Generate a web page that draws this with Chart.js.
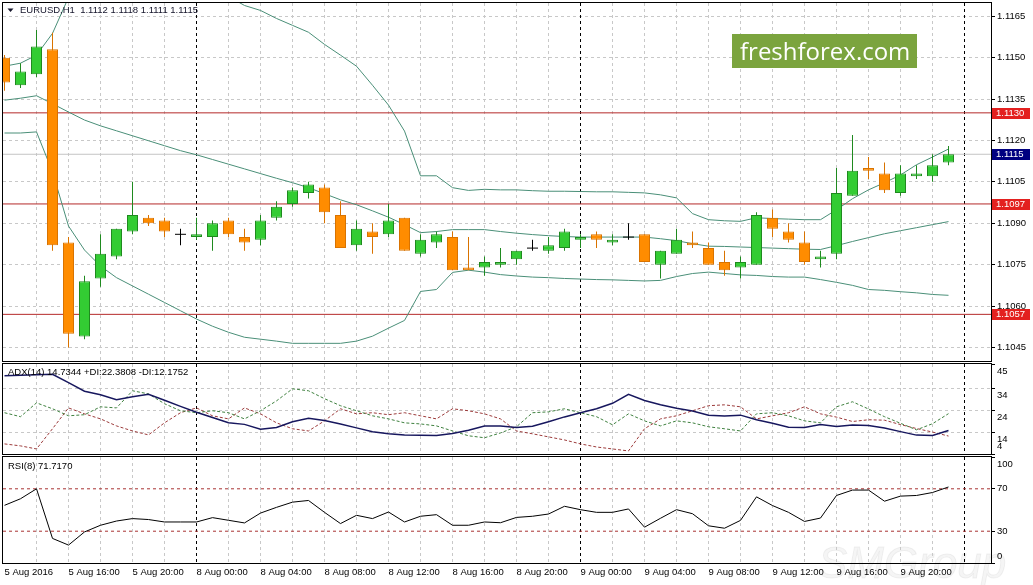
<!DOCTYPE html>
<html>
<head>
<meta charset="utf-8">
<title>EURUSD H1</title>
<script src="https://cdn.jsdelivr.net/npm/chart.js@4.4.1/dist/chart.umd.min.js"></script>
<style>
  html, body { margin: 0; padding: 0; background: #fff; }
  #wrap { position: relative; width: 1033px; height: 585px; overflow: hidden; background: #fff; }
  .pane { position: absolute; left: 0; width: 1033px; }
</style>
</head>
<body>
<div id="wrap">
  <div class="pane" style="top:0;height:362px"><canvas id="priceChart"></canvas></div>
  <div class="pane" style="top:362px;height:93px"><canvas id="adxChart"></canvas></div>
  <div class="pane" style="top:455px;height:130px"><canvas id="rsiChart"></canvas></div>
</div>
<script>
var symbol = 'EURUSD,H1';
var brand = 'freshforex.com';
var watermark = 'SMGroup';

// one label every 4 bars, starting at bar 0
var timeLabels = ['5 Aug 2016', '5 Aug 16:00', '5 Aug 20:00', '8 Aug 00:00', '8 Aug 04:00', '8 Aug 08:00',
    '8 Aug 12:00', '8 Aug 16:00', '8 Aug 20:00', '9 Aug 00:00', '9 Aug 04:00', '9 Aug 08:00',
    '9 Aug 12:00', '9 Aug 16:00', '9 Aug 20:00'];
var daySeparators = [12, 36, 60];

var opens = [1.1150, 1.1140, 1.1144, 1.1153, 1.1083, 1.1049, 1.1070, 1.1078, 1.1087, 1.1092,
    1.1091, 1.1086, 1.1085, 1.1085, 1.1091, 1.1085, 1.1084, 1.1092, 1.1097, 1.1101,
    1.1103, 1.1093, 1.1082, 1.1087, 1.1086, 1.1092, 1.1079, 1.1083, 1.1085, 1.1074,
    1.1074, 1.1075, 1.1077, 1.1081, 1.1080, 1.1081, 1.1084, 1.1086, 1.1083, 1.1085,
    1.1086, 1.1075, 1.1079, 1.1083, 1.1081, 1.1076, 1.1074, 1.1075, 1.1092, 1.1087,
    1.1083, 1.1077, 1.1079, 1.1100, 1.1110, 1.1108, 1.1101, 1.1107, 1.1107, 1.1112];
var highs = [1.1151, 1.1148, 1.1160, 1.1159, 1.1085, 1.1071, 1.1086, 1.1088, 1.1105, 1.1093,
    1.1092, 1.1088, 1.1092, 1.1091, 1.1092, 1.1088, 1.1093, 1.1098, 1.1103, 1.1105,
    1.1104, 1.1098, 1.1091, 1.1090, 1.1097, 1.1092, 1.1086, 1.1087, 1.1087, 1.1085,
    1.1078, 1.1081, 1.1080, 1.1084, 1.1085, 1.1088, 1.1086, 1.1087, 1.1086, 1.1090,
    1.1086, 1.1080, 1.1088, 1.1087, 1.1083, 1.1080, 1.1078, 1.1094, 1.1095, 1.1090,
    1.1087, 1.1080, 1.1110, 1.1122, 1.1114, 1.1112, 1.1111, 1.1111, 1.1115, 1.1118];
var lows = [1.1138, 1.1139, 1.1143, 1.1080, 1.1045, 1.1048, 1.1067, 1.1077, 1.1086, 1.1089,
    1.1085, 1.1082, 1.1084, 1.1080, 1.1085, 1.1080, 1.1082, 1.1091, 1.1096, 1.1099,
    1.1090, 1.1081, 1.1080, 1.1079, 1.1085, 1.1080, 1.1078, 1.1081, 1.1073, 1.1073,
    1.1071, 1.1074, 1.1075, 1.1080, 1.1079, 1.1080, 1.1081, 1.1081, 1.1082, 1.1084,
    1.1076, 1.1070, 1.1079, 1.1081, 1.1075, 1.1071, 1.1070, 1.1075, 1.1085, 1.1083,
    1.1075, 1.1074, 1.1077, 1.1100, 1.1106, 1.1101, 1.1100, 1.1106, 1.1105, 1.1111];
var closes = [1.1141, 1.1145, 1.1154, 1.1082, 1.1050, 1.1069, 1.1079, 1.1088, 1.1093, 1.1090,
    1.1087, 1.1086, 1.1086, 1.1090, 1.1086, 1.1083, 1.1091, 1.1096, 1.1102, 1.1104,
    1.1094, 1.1081, 1.1088, 1.1085, 1.1091, 1.1080, 1.1084, 1.1086, 1.1073, 1.1073,
    1.1076, 1.1076, 1.1080, 1.1081, 1.1082, 1.1087, 1.1085, 1.1084, 1.1084, 1.1085,
    1.1076, 1.1080, 1.1084, 1.1082, 1.1075, 1.1073, 1.1076, 1.1093, 1.1088, 1.1084,
    1.1076, 1.1078, 1.1101, 1.1109, 1.1109, 1.1102, 1.1108, 1.1108, 1.1111, 1.1115];

var bbUpper = [1.11469, 1.11480, 1.11509, 1.11588, 1.11718, 1.11762, 1.11787, 1.11801, 1.11808, 1.11808,
    1.11801, 1.11787, 1.11769, 1.11747, 1.11722, 1.11689, 1.11671, 1.11642, 1.11617, 1.11592,
    1.11548, 1.11509, 1.11469, 1.11400, 1.11328, 1.11234, 1.11072, 1.11072, 1.11029, 1.11019,
    1.11023, 1.11021, 1.11021, 1.11018, 1.11016, 1.11016, 1.11015, 1.11014, 1.11014, 1.11012,
    1.11010, 1.11003, 1.10992, 1.10935, 1.10913, 1.10909, 1.10907, 1.10920, 1.10917, 1.10915,
    1.10913, 1.10913, 1.10949, 1.10989, 1.11021, 1.11047, 1.11075, 1.11112, 1.11140, 1.11169];
var bbMiddle = [1.11346, 1.11353, 1.11362, 1.11333, 1.11303, 1.11274, 1.11253, 1.11235, 1.11217, 1.11199,
    1.11181, 1.11163, 1.11148, 1.11131, 1.11114, 1.11097, 1.11080, 1.11063, 1.11047, 1.11029,
    1.11007, 1.10985, 1.10967, 1.10945, 1.10922, 1.10895, 1.10866, 1.10870, 1.10877, 1.10877,
    1.10877, 1.10870, 1.10864, 1.10859, 1.10855, 1.10852, 1.10850, 1.10850, 1.10850, 1.10850,
    1.10850, 1.10844, 1.10837, 1.10826, 1.10817, 1.10816, 1.10814, 1.10812, 1.10810, 1.10808,
    1.10806, 1.10805, 1.10819, 1.10834, 1.10848, 1.10862, 1.10873, 1.10884, 1.10895, 1.10906];
var bbLower = [1.11227, 1.11227, 1.11231, 1.11086, 1.10890, 1.10803, 1.10745, 1.10703, 1.10673, 1.10643,
    1.10613, 1.10583, 1.10553, 1.10527, 1.10505, 1.10487, 1.10480, 1.10473, 1.10465, 1.10465,
    1.10465, 1.10465, 1.10473, 1.10491, 1.10520, 1.10548, 1.10653, 1.10660, 1.10722, 1.10730,
    1.10723, 1.10714, 1.10709, 1.10705, 1.10703, 1.10700, 1.10698, 1.10696, 1.10695, 1.10693,
    1.10691, 1.10693, 1.10707, 1.10718, 1.10723, 1.10718, 1.10713, 1.10711, 1.10707, 1.10705,
    1.10705, 1.10696, 1.10686, 1.10675, 1.10660, 1.10657, 1.10652, 1.10648, 1.10642, 1.10639];

var levels = [1.1130, 1.1097, 1.1057];
var priceTicks = [1.1045, 1.1060, 1.1075, 1.1090, 1.1105, 1.1120, 1.1135, 1.1150, 1.1165];

var adxMain = [39.7, 39.9, 40.1, 40.3, 36.5, 32.6, 31.0, 28.7, 30.1, 31.2,
    28.5, 25.7, 23.0, 20.6, 18.2, 17.5, 15.3, 16.1, 18.7, 20.3,
    19.3, 17.7, 15.9, 14.1, 13.2, 12.7, 12.5, 12.4, 13.3, 14.8,
    16.8, 16.8, 16.1, 16.6, 18.7, 20.9, 22.8, 24.6, 27.1, 31.2,
    28.4, 26.4, 24.8, 23.6, 21.7, 21.3, 21.7, 19.6, 18.0, 16.2,
    16.1, 17.4, 16.5, 17.2, 17.0, 15.8, 14.2, 12.6, 12.4, 14.7344];
var plusDI = [22.8, 21.0, 27.3, 24.6, 21.4, 21.9, 25.5, 25.0, 32.8, 31.4,
    26.9, 23.7, 22.8, 23.7, 22.8, 20.0, 23.7, 28.2, 33.7, 32.8,
    29.2, 26.0, 23.7, 21.4, 20.0, 18.2, 17.7, 16.8, 14.5, 12.3,
    11.4, 13.6, 16.4, 22.8, 23.2, 24.6, 22.8, 21.0, 17.3, 22.3,
    19.1, 16.8, 19.1, 18.2, 16.4, 15.5, 14.5, 22.3, 22.8, 21.4,
    19.1, 18.2, 25.5, 27.8, 24.5, 21.0, 18.0, 15.0, 17.8, 22.3808];
var minusDI = [8.6, 7.7, 6.3, 15.5, 25.0, 22.3, 20.0, 16.8, 14.5, 12.7,
    18.2, 22.8, 25.0, 21.4, 20.0, 25.0, 22.3, 18.2, 15.5, 14.5,
    19.1, 24.6, 22.3, 22.8, 21.9, 22.8, 21.4, 20.0, 24.6, 23.7,
    22.3, 20.0, 14.5, 13.2, 11.8, 10.4, 8.6, 7.2, 6.3, 5.4,
    15.5, 20.0, 21.4, 23.7, 26.0, 26.4, 25.5, 20.0, 21.4, 22.8,
    25.5, 22.3, 20.8, 18.8, 19.6, 19.4, 17.4, 15.6, 14.0, 12.1752];
var adxTicks = [4, 14, 24, 34, 45];

var rsi = [54.4, 60.6, 70.0, 23.2, 16.9, 29.3, 35.6, 39.6, 41.9, 41.0,
    38.7, 38.7, 38.7, 42.8, 40.3, 37.8, 47.1, 52.5, 57.4, 59.0,
    47.8, 37.2, 45.0, 41.9, 48.1, 38.7, 44.1, 45.6, 35.6, 35.6,
    38.7, 38.0, 43.0, 44.1, 46.2, 53.5, 50.3, 47.8, 47.8, 51.0,
    33.8, 42.2, 50.3, 46.5, 35.1, 32.8, 40.2, 62.4, 54.2, 47.8,
    39.2, 42.4, 63.7, 68.8, 68.8, 58.3, 63.1, 63.7, 66.5, 71.7170];
var rsiLevels = [30, 70];
var rsiTicks = [0, 30, 70, 100];

/**
 * Shared look
 */

Chart.defaults.font.family = '"Liberation Sans", Arial, sans-serif';
Chart.defaults.font.size = 9.5;
Chart.defaults.color = '#000';
Chart.defaults.animation = false;
Chart.defaults.events = [];
Chart.defaults.plugins.legend.display = false;
Chart.defaults.plugins.tooltip.enabled = false;

const FONT = '9.5px "Liberation Sans", Arial, sans-serif';
const GRID = '#c8c8c8';
const BULL = '#33cc33', BULL_EDGE = '#1f8a1f';
const BEAR = '#ff8c00', BEAR_EDGE = '#d97300';

// 16 px per bar, bar centres on .5 pixels
const xMin = -0.09375, xMax = 61.65625;
var gridIndex = [];
for (var g = 0; g <= 60; g += 2) gridIndex.push(g);

function fmt(v) { return v.toFixed(4); }
function series(arr) { return arr.map(function (v, i) { return {x: i, y: v}; }); }
function flat(v) { return [{x: xMin, y: v}, {x: xMax, y: v}]; }
function isUp(i) { return closes[i] > opens[i]; }

function timeAxis(showLabels) {
    return {
        type: 'linear', min: xMin, max: xMax, offset: false,
        afterBuildTicks: function (s) { s.ticks = gridIndex.map(function (v) { return {value: v}; }); },
        afterFit: function (s) { s.height = showLabels ? 22 : 0; s.paddingLeft = 0; s.paddingRight = 0; },
        ticks: {
            display: showLabels, autoSkip: false, maxRotation: 0, minRotation: 0, align: 'start', padding: 4,
            callback: function (v) { return v % 4 === 0 ? (timeLabels[v / 4] || '') : ''; }
        },
        grid: {
            offset: false, drawTicks: false,
            color: function (c) {
                var v = c.tick ? c.tick.value : -1;
                return (v === 0 || daySeparators.indexOf(v) >= 0) ? 'rgba(0,0,0,0)' : GRID;
            }
        },
        border: {display: false, dash: [3, 3]}
    };
}

function rightAxis(min, max, ticks, extra) {
    var axis = {
        position: 'right', min: min, max: max, beginAtZero: false,
        afterBuildTicks: function (s) { s.ticks = ticks.map(function (v) { return {value: v}; }); },
        afterFit: function (s) { s.width = 42; s.paddingTop = 0; s.paddingBottom = 0; },
        ticks: {display: false},
        grid: {color: GRID, tickLength: 4, tickColor: '#000'},
        border: {display: true, color: '#000', dash: [3, 3]}
    };
    return Object.assign(axis, extra || {});
}

var paneFrame = {
    id: 'paneFrame',
    beforeDatasetsDraw: function (chart) {
        var ctx = chart.ctx, a = chart.chartArea, x = chart.scales.x;
        ctx.save();
        ctx.strokeStyle = '#000';
        ctx.lineWidth = 1;
        ctx.setLineDash([3, 3]);
        daySeparators.forEach(function (i) {
            var px = Math.floor(x.getPixelForValue(i)) + 0.5;
            ctx.beginPath();
            ctx.moveTo(px, a.top);
            ctx.lineTo(px, a.bottom);
            ctx.stroke();
        });
        ctx.restore();
    },
    afterDraw: function (chart) {
        var ctx = chart.ctx, a = chart.chartArea;
        ctx.save();
        ctx.strokeStyle = '#000';
        ctx.lineWidth = 1;
        ctx.strokeRect(Math.round(a.left) - 0.5, Math.round(a.top) - 0.5,
            Math.round(a.right - a.left) + 1, Math.round(a.bottom - a.top) + 1);
        ctx.restore();
    }
};

/**
 * Price pane: candles + Bollinger bands + levels
 */

var bodyData = [], dojiData = [], wickData = [];
opens.forEach(function (o, i) {
    wickData.push({x: i, y: [lows[i], highs[i]]});
    if (o === closes[i]) dojiData.push({x: i, y: o});
    else bodyData.push({x: i, y: [o, closes[i]]});
});
var last = closes.length - 1;

var priceDecor = {
    id: 'priceDecor',
    afterDraw: function (chart) {
        var ctx = chart.ctx, y = chart.scales.y;
        ctx.save();
        // header
        ctx.fillStyle = '#14142a';
        ctx.beginPath();
        ctx.moveTo(7.5, 8.5); ctx.lineTo(13.5, 8.5); ctx.lineTo(10.5, 12);
        ctx.closePath();
        ctx.fill();
        ctx.font = FONT;
        ctx.textAlign = 'left';
        ctx.textBaseline = 'middle';
        ctx.fillText(symbol + '  ' + [opens[last], highs[last], lows[last], closes[last]].map(fmt).join(' '), 20, 10.5);

        // logo box
        ctx.fillStyle = '#7ba43e';
        ctx.fillRect(732, 34, 185, 34);
        ctx.fillStyle = '#fff';
        ctx.font = '26px "Open Sans", sans-serif';
        var size = 26 * 170 / ctx.measureText(brand).width;
        ctx.font = size.toFixed(1) + 'px "Open Sans", sans-serif';
        ctx.textBaseline = 'alphabetic';
        ctx.fillText(brand, 740, 59.5);

        // price boxes on the axis
        ctx.font = FONT;
        ctx.textBaseline = 'middle';
        var boxes = levels.map(function (v) { return [v, '#e3201f']; });
        boxes.push([closes[last], '#000080']);
        boxes.forEach(function (b) {
            var py = Math.round(y.getPixelForValue(b[0]));
            ctx.fillStyle = b[1];
            ctx.fillRect(992, py - 5, 38, 11);
            ctx.fillStyle = '#fff';
            ctx.fillText(fmt(b[0]), 996, py + 0.5);
        });
        ctx.restore();
    }
};

var bandStyle = {type: 'line', borderColor: '#4a8f78', borderWidth: 1, pointRadius: 0, tension: 0, fill: false, order: 2};
var priceDatasets = [
    {
        type: 'bar', data: bodyData, grouped: false, barThickness: 11, borderWidth: 1,
        borderSkipped: false, inflateAmount: 0, order: 0,
        backgroundColor: function (c) { return c.raw && !isUp(c.raw.x) ? BEAR : BULL; },
        borderColor: function (c) { return c.raw && !isUp(c.raw.x) ? BEAR_EDGE : BULL_EDGE; }
    },
    {
        type: 'scatter', data: dojiData, pointStyle: 'line', pointRadius: 5.5, pointHoverRadius: 5.5,
        pointBorderColor: '#000', pointBorderWidth: 1, borderColor: '#000', order: 0
    },
    {
        type: 'bar', data: wickData, grouped: false, barThickness: 1, borderWidth: 0,
        inflateAmount: 0, order: 1,
        backgroundColor: function (c) {
            if (!c.raw) return '#000';
            var i = c.raw.x;
            if (opens[i] === closes[i]) return '#000';
            return isUp(i) ? BULL_EDGE : BEAR_EDGE;
        }
    },
    Object.assign({data: series(bbUpper)}, bandStyle),
    Object.assign({data: series(bbMiddle)}, bandStyle),
    Object.assign({data: series(bbLower)}, bandStyle)
];
levels.forEach(function (v) {
    priceDatasets.push({type: 'line', data: flat(v), borderColor: '#b52a2a', borderWidth: 1, pointRadius: 0, order: 3});
});
priceDatasets.push({type: 'line', data: flat(closes[last]), borderColor: '#c4c4c4', borderWidth: 1, pointRadius: 0, order: 4});

new Chart(document.getElementById('priceChart'), {
    type: 'bar',
    data: {datasets: priceDatasets},
    options: {
        responsive: true,
        maintainAspectRatio: false,
        layout: {autoPadding: false, padding: {left: 3, top: 3, right: 0, bottom: 1}},
        scales: {
            x: timeAxis(false),
            y: rightAxis(1.10401, 1.11698, priceTicks, {
                ticks: {display: true, padding: 2, callback: function (v) { return fmt(v); }}
            })
        }
    },
    plugins: [paneFrame, priceDecor]
});

/**
 * ADX pane
 */

var adxDecor = {
    id: 'adxDecor',
    afterDraw: function (chart) {
        var ctx = chart.ctx, y = chart.scales.y;
        var n = adxMain.length - 1;
        ctx.save();
        ctx.font = FONT;
        ctx.fillStyle = '#000';
        ctx.textAlign = 'left';
        ctx.textBaseline = 'middle';
        ctx.fillText('ADX(14) ' + fmt(adxMain[n]) + ' +DI:' + fmt(plusDI[n]) + ' -DI:' + fmt(minusDI[n]), 8, 10);
        adxTicks.forEach(function (v) {
            var shift = v === adxTicks[0] ? -8 : 7;
            ctx.fillText(String(v), 997, y.getPixelForValue(v) + shift);
        });
        ctx.restore();
    }
};

new Chart(document.getElementById('adxChart'), {
    type: 'line',
    data: {
        datasets: [
            {data: series(adxMain), borderColor: '#17175e', borderWidth: 1.5, pointRadius: 0, tension: 0},
            {data: series(plusDI), borderColor: '#3f803f', borderWidth: 1, borderDash: [3, 2], pointRadius: 0, tension: 0},
            {data: series(minusDI), borderColor: '#9c3b3b', borderWidth: 1, borderDash: [3, 2], pointRadius: 0, tension: 0}
        ]
    },
    options: {
        responsive: true,
        maintainAspectRatio: false,
        layout: {autoPadding: false, padding: {left: 3, top: 2, right: 0, bottom: 1}},
        scales: {
            x: timeAxis(false),
            y: rightAxis(4, 45, adxTicks, {
                grid: {
                    tickLength: 4, tickColor: '#000',
                    color: function (c) {
                        var v = c.tick ? c.tick.value : 0;
                        return (v === 4 || v === 45) ? 'rgba(0,0,0,0)' : GRID;
                    }
                }
            })
        }
    },
    plugins: [paneFrame, adxDecor]
});

/**
 * RSI pane
 */

var rsiDecor = {
    id: 'rsiDecor',
    beforeDraw: function (chart) {
        var ctx = chart.ctx;
        ctx.save();
        ctx.font = 'italic 44px "Liberation Sans", Arial, sans-serif';
        ctx.textBaseline = 'alphabetic';
        ctx.fillStyle = 'rgba(0,0,0,0.04)';
        ctx.fillText(watermark, 818, 123);
        ctx.strokeStyle = 'rgba(0,0,0,0.06)';
        ctx.lineWidth = 1;
        ctx.strokeText(watermark, 818, 123);
        ctx.restore();
    },
    afterDraw: function (chart) {
        var ctx = chart.ctx, y = chart.scales.y;
        ctx.save();
        ctx.font = FONT;
        ctx.fillStyle = '#000';
        ctx.textAlign = 'left';
        ctx.textBaseline = 'middle';
        ctx.fillText('RSI(8) ' + fmt(rsi[rsi.length - 1]), 8, 11);
        rsiTicks.forEach(function (v) {
            var shift = v === 100 ? 7 : (v === 0 ? -7 : 0);
            ctx.fillText(String(v), 997, y.getPixelForValue(v) + shift);
        });
        ctx.restore();
    }
};

var rsiDatasets = [{data: series(rsi), borderColor: '#000', borderWidth: 1, pointRadius: 0, tension: 0}];
rsiLevels.forEach(function (v) {
    rsiDatasets.push({data: flat(v), borderColor: '#a83232', borderWidth: 1, borderDash: [3, 3], pointRadius: 0});
});

new Chart(document.getElementById('rsiChart'), {
    type: 'line',
    data: {datasets: rsiDatasets},
    options: {
        responsive: true,
        maintainAspectRatio: false,
        layout: {autoPadding: false, padding: {left: 3, top: 2, right: 0, bottom: 0}},
        scales: {
            x: timeAxis(true),
            y: rightAxis(0, 100, rsiTicks, {
                grid: {drawOnChartArea: false, tickLength: 4, tickColor: '#000'}
            })
        }
    },
    plugins: [paneFrame, rsiDecor]
});
</script>
</body>
</html>
